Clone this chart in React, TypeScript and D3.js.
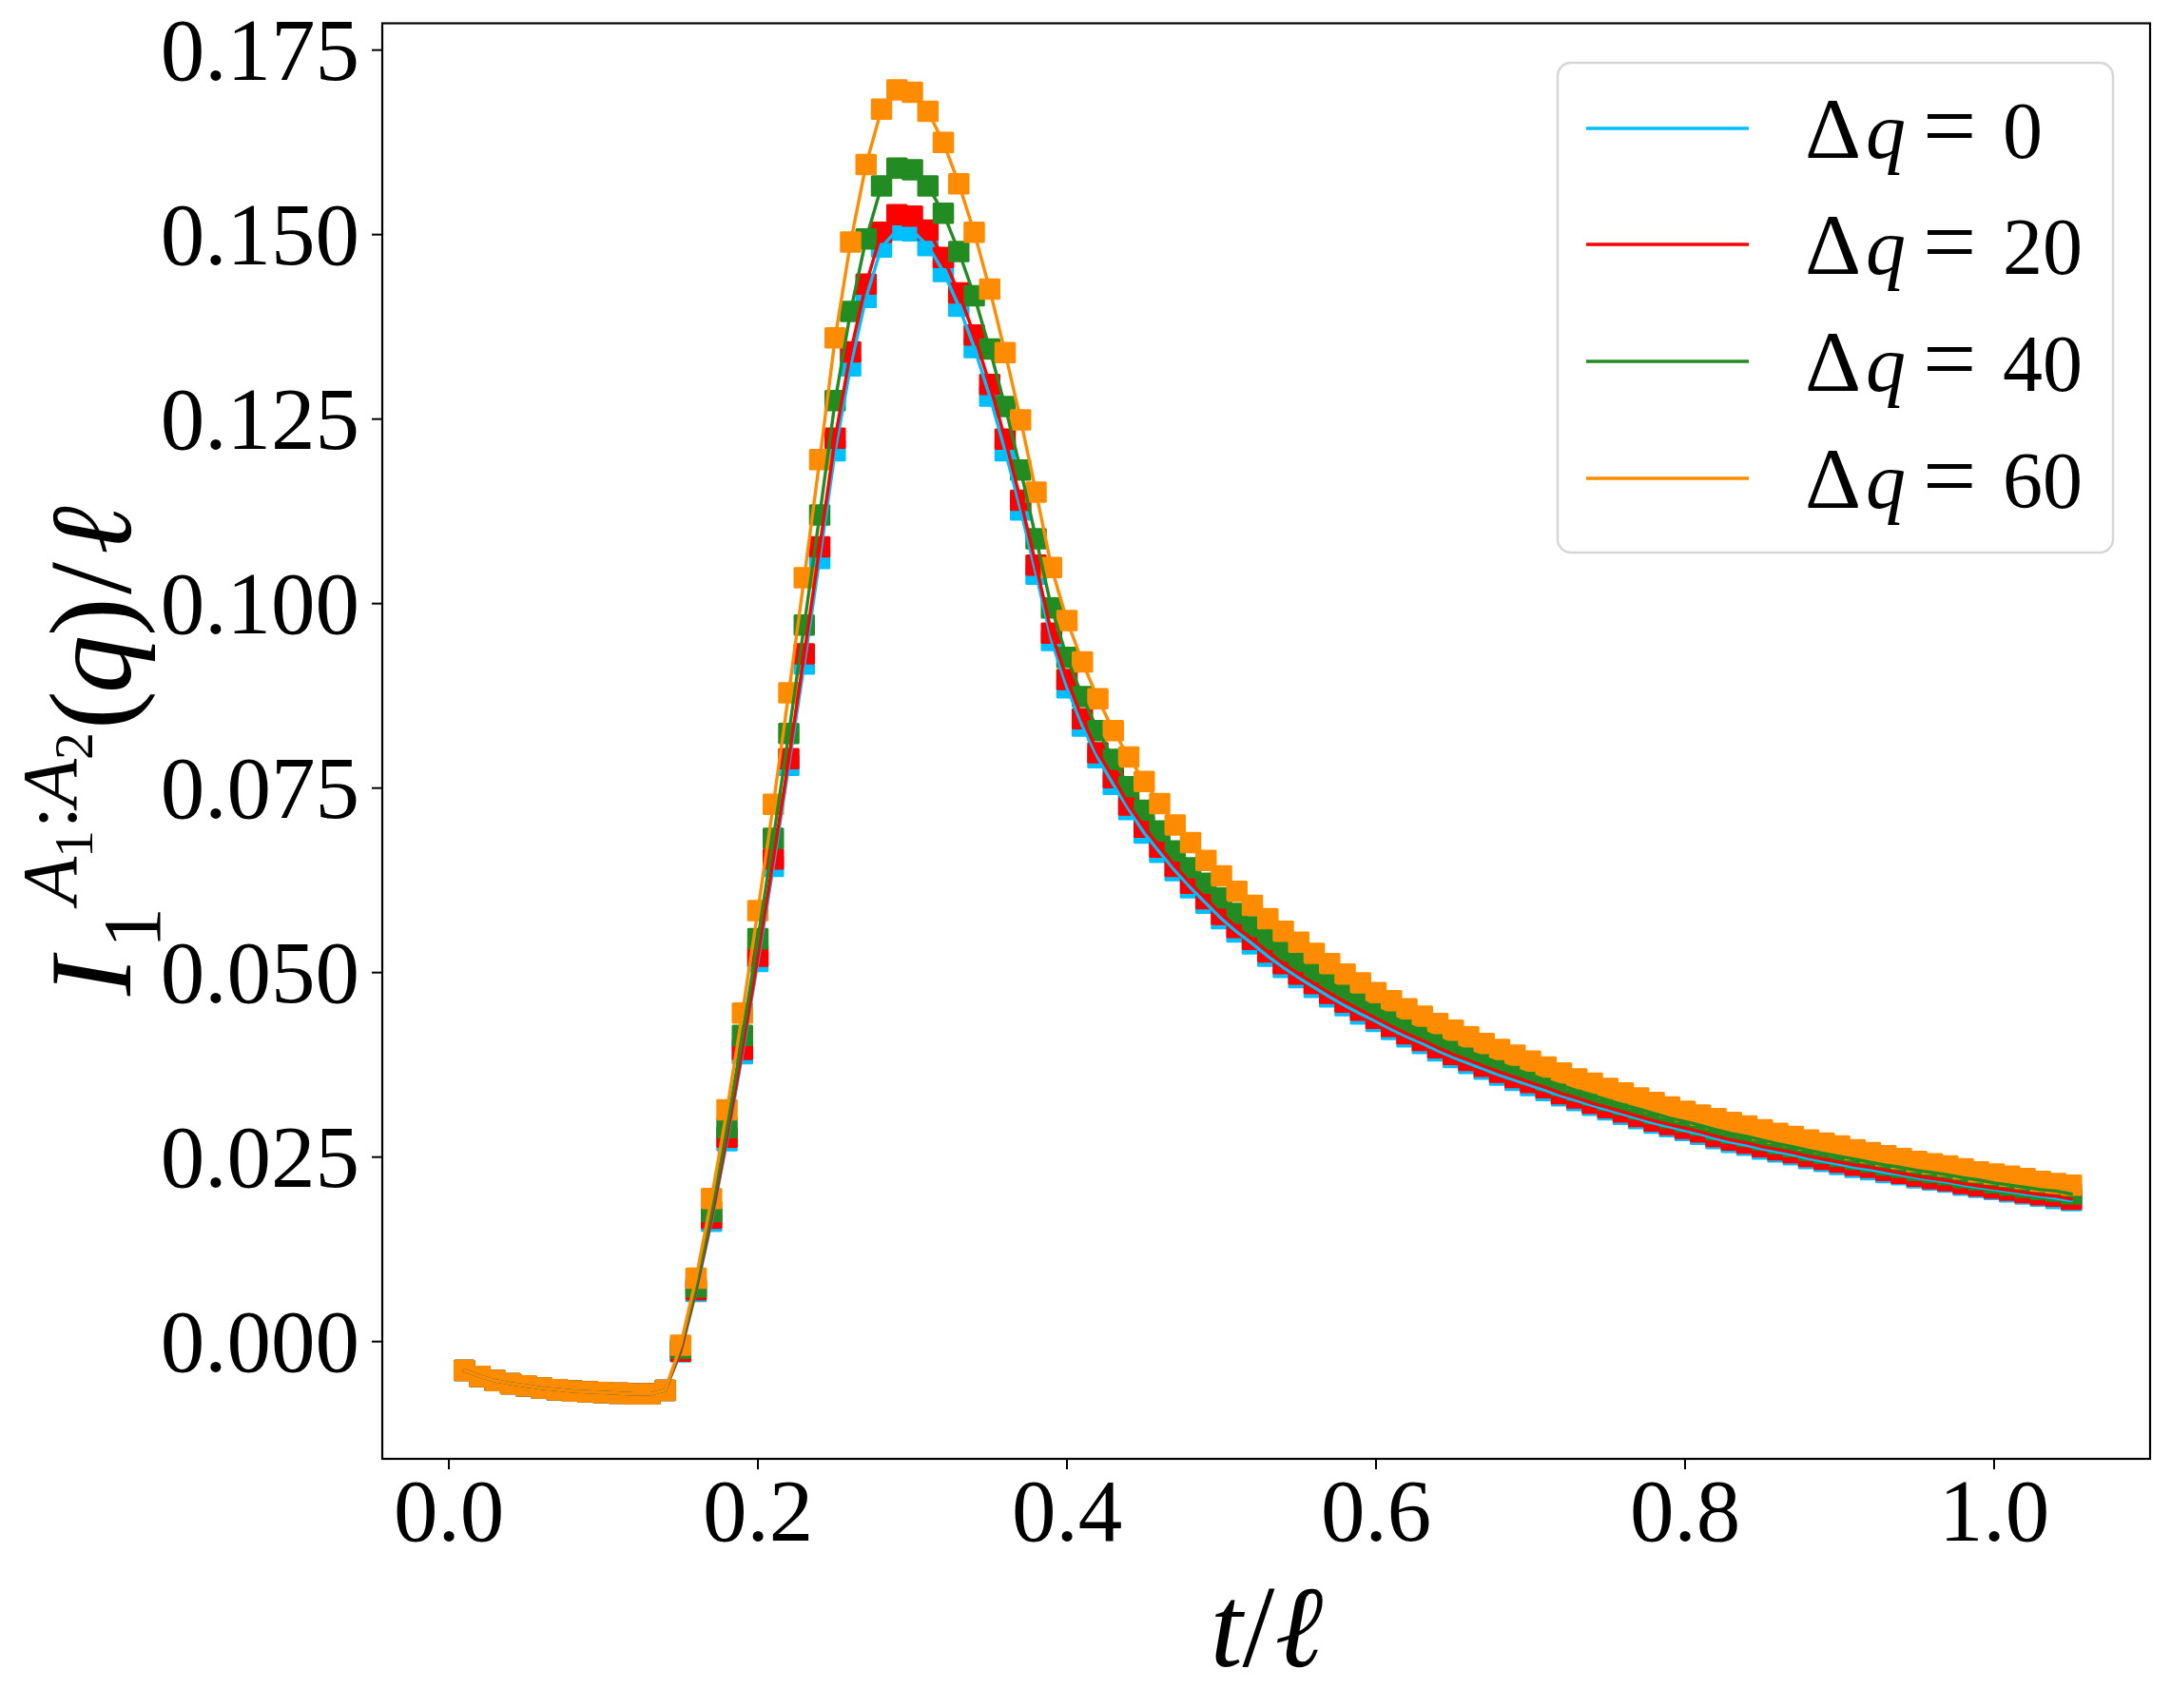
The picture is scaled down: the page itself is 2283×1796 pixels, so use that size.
import React from 'react';
import * as d3 from 'd3';

// t / ell sample points
const tValues = [
  0.01, 0.02, 0.03, 0.04, 0.05, 0.06, 0.07, 0.08, 0.09, 0.10,
  0.11, 0.12, 0.13, 0.14, 0.15, 0.16, 0.17, 0.18, 0.19, 0.20,
  0.21, 0.22, 0.23, 0.24, 0.25, 0.26, 0.27, 0.28, 0.29, 0.30,
  0.31, 0.32, 0.33, 0.34, 0.35, 0.36, 0.37, 0.38, 0.39, 0.40,
  0.41, 0.42, 0.43, 0.44, 0.45, 0.46, 0.47, 0.48, 0.49, 0.50,
  0.51, 0.52, 0.53, 0.54, 0.55, 0.56, 0.57, 0.58, 0.59, 0.60,
  0.61, 0.62, 0.63, 0.64, 0.65, 0.66, 0.67, 0.68, 0.69, 0.70,
  0.71, 0.72, 0.73, 0.74, 0.75, 0.76, 0.77, 0.78, 0.79, 0.80,
  0.81, 0.82, 0.83, 0.84, 0.85, 0.86, 0.87, 0.88, 0.89, 0.90,
  0.91, 0.92, 0.93, 0.94, 0.95, 0.96, 0.97, 0.98, 0.99, 1.00,
  1.01, 1.02, 1.03, 1.04, 1.05,
];

// Δq = 0
const dq0 = [
  -0.0039, -0.0047, -0.0053, -0.0057, -0.0060, -0.0063, -0.0065, -0.0067, -0.0068, -0.0069,
  -0.0070, -0.0071, -0.0071, -0.0066,
  -0.0014, 0.0068, 0.0163, 0.0272, 0.0390, 0.0515, 0.0644, 0.0781, 0.0918, 0.1061,
  0.1207, 0.1322, 0.1415, 0.1483, 0.1506, 0.1505, 0.1485, 0.1450, 0.1403, 0.1347,
  0.1281, 0.1207, 0.1127, 0.1040, 0.0950, 0.0886, 0.0834, 0.0791, 0.0755, 0.0721,
  0.0689, 0.0663, 0.0638, 0.0615, 0.0594, 0.0573,
  0.0555, 0.0539, 0.0522, 0.0507, 0.0493, 0.0480, 0.0467, 0.0455, 0.0444, 0.0434,
  0.0423, 0.0413, 0.0404, 0.0394, 0.0385, 0.0377, 0.0369, 0.0361, 0.0354, 0.0347,
  0.0340, 0.0333, 0.03265, 0.0320, 0.0314, 0.0308, 0.0302, 0.0296, 0.0291, 0.0286,
  0.0281, 0.0275, 0.0270, 0.0266, 0.0261, 0.0257, 0.0253, 0.0248, 0.0244, 0.0240,
  0.0236, 0.0233, 0.0229, 0.0226, 0.0222, 0.0219, 0.0216, 0.0212, 0.0209, 0.0206,
  0.0203, 0.0200, 0.0197, 0.0194, 0.0191,
];

// Δq = 20
const dq20 = [
  -0.0039, -0.0047, -0.0053, -0.0057, -0.0060, -0.0063, -0.0065, -0.0067, -0.0068, -0.0069,
  -0.0070, -0.0071, -0.0071, -0.0066,
  -0.0013, 0.0070, 0.0167, 0.0277, 0.0396, 0.0522, 0.0654, 0.0790, 0.0932, 0.1077,
  0.1224, 0.1341, 0.1433, 0.1503, 0.1527, 0.1525, 0.1506, 0.1469, 0.1421, 0.1364,
  0.1297, 0.1223, 0.1140, 0.1052, 0.0960, 0.0897, 0.0844, 0.0798, 0.0764, 0.0727,
  0.0697, 0.0670, 0.0644, 0.0621, 0.0600, 0.0579,
  0.0561, 0.0545, 0.0528, 0.0512, 0.0498, 0.0485, 0.0472, 0.0460, 0.0449, 0.0438,
  0.0427, 0.0417, 0.0408, 0.0398, 0.0389, 0.0381, 0.0373, 0.0365, 0.0358, 0.0351,
  0.0344, 0.0336, 0.0330, 0.0323, 0.0317, 0.0311, 0.0305, 0.0299, 0.0294, 0.0289,
  0.0284, 0.0278, 0.0273, 0.0269, 0.0264, 0.0260, 0.0256, 0.0251, 0.0247, 0.0243,
  0.0239, 0.0236, 0.0232, 0.0228, 0.0224, 0.0221, 0.0218, 0.0214, 0.0211, 0.0208,
  0.0205, 0.0202, 0.0199, 0.0197, 0.0193,
];

// Δq = 40
const dq40 = [
  -0.0039, -0.0047, -0.0053, -0.0057, -0.0060, -0.0063, -0.0065, -0.0067, -0.0068, -0.0069,
  -0.0070, -0.0071, -0.0071, -0.0066,
  -0.0009, 0.0074, 0.0176, 0.0290, 0.0415, 0.0546, 0.0682, 0.0824, 0.0971, 0.1120,
  0.1275, 0.1396, 0.1494, 0.1566, 0.1590, 0.1588, 0.1566, 0.1529, 0.1477, 0.1417,
  0.1345, 0.1267, 0.1181, 0.1088, 0.0994, 0.0927, 0.0874, 0.0828, 0.0789, 0.0752,
  0.0720, 0.0692, 0.0665, 0.0642, 0.0621, 0.0601,
  0.0580, 0.0562, 0.0545, 0.0529, 0.0515, 0.0501, 0.0487, 0.0474, 0.0463, 0.0452,
  0.0441, 0.0430, 0.0421, 0.0411, 0.0402, 0.0393, 0.0385, 0.0377, 0.0369, 0.0362,
  0.0354, 0.0347, 0.0340, 0.0334, 0.0327, 0.0321, 0.0315, 0.0309, 0.0303, 0.0298,
  0.0293, 0.0287, 0.0282, 0.0278, 0.0273, 0.0268, 0.0264, 0.0259, 0.0255, 0.0251,
  0.0247, 0.0243, 0.0239, 0.0236, 0.0232, 0.0229, 0.0226, 0.0222, 0.0219, 0.0215,
  0.0212, 0.0209, 0.0206, 0.0204, 0.0200,
];

// Δq = 60
const dq60 = [
  -0.0039, -0.0047, -0.0053, -0.0057, -0.0060, -0.0063, -0.0065, -0.0067, -0.0068, -0.0069,
  -0.0070, -0.0071, -0.0071, -0.0066,
  -0.0005, 0.0086, 0.0194, 0.0314, 0.0445, 0.0584, 0.0728, 0.0879, 0.1035, 0.1195,
  0.1360, 0.1490, 0.1595, 0.1670, 0.1696, 0.1693, 0.1667, 0.1625, 0.1569, 0.1503,
  0.1426, 0.1340, 0.1249, 0.1151, 0.1049, 0.0977, 0.0921, 0.0871, 0.0828, 0.0792,
  0.0759, 0.0729, 0.0700, 0.0676, 0.0652, 0.0631,
  0.0610, 0.0591, 0.0573, 0.0556, 0.0541, 0.0526, 0.0512, 0.0498, 0.0486, 0.0473,
  0.0462, 0.0451, 0.0441, 0.0431, 0.0422, 0.0413, 0.0404, 0.0396, 0.0388, 0.0380,
  0.0372, 0.0364, 0.0356, 0.0350, 0.0343, 0.0337, 0.0330, 0.0324, 0.0318, 0.0312,
  0.0307, 0.0302, 0.0297, 0.0292, 0.0287, 0.0282, 0.0278, 0.0273, 0.0269, 0.0265,
  0.0260, 0.0256, 0.0252, 0.0248, 0.0244, 0.0241, 0.0238, 0.0234, 0.0230, 0.0227,
  0.0224, 0.0221, 0.0217, 0.0214, 0.0212,
];

const seriesLabels = ['0', '20', '40', '60'];
const seriesColors = ['#00BFFF', '#FF0000', '#228B22', '#FF8C00'];
const seriesValues = [dq0, dq20, dq40, dq60];

const xTicks = [0.0, 0.2, 0.4, 0.6, 0.8, 1.0];
const xTickLabels = ['0.0', '0.2', '0.4', '0.6', '0.8', '1.0'];
const yTicks = [0.0, 0.025, 0.05, 0.075, 0.1, 0.125, 0.15, 0.175];
const yTickLabels = ['0.000', '0.025', '0.050', '0.075', '0.100', '0.125', '0.150', '0.175'];

const W = 2283;
const H = 1796;
const AX = { left: 402, right: 2261, top: 24.5, bottom: 1534 };
const FONT = "'Liberation Serif', 'DejaVu Serif', serif";

export default function App() {
  const x = d3.scaleLinear().domain([-0.04308, 1.10092]).range([AX.left, AX.right]);
  const y = d3.scaleLinear().domain([-0.01589, 0.17863]).range([AX.bottom, AX.top]);

  const ms = 22.5;
  const lineGen = d3
    .line<number>()
    .x((_, i) => x(tValues[i]))
    .y((d) => y(d));

  const tickFont = 93;
  const legendFont = 84;
  const labelFont = 122;

  const legendLineY = [135, 257, 380, 503];

  return (
    <svg
      width={W}
      height={H}
      viewBox={`0 0 ${W} ${H}`}
      style={{ position: 'absolute', left: 0, top: 0, background: '#fff' }}
      fontFamily={FONT}
    >
      <rect x={0} y={0} width={W} height={H} fill="#fff" />

      {/* markers */}
      <g>
        {seriesValues.map((vals, si) => (
          <g key={'m' + si} fill={seriesColors[si]}>
            {vals.map((v, i) => (
              <rect
                key={i}
                x={x(tValues[i]) - ms / 2}
                y={y(v) - ms / 2}
                width={ms}
                height={ms}
                rx={1.5}
              />
            ))}
          </g>
        ))}
      </g>

      {/* lines */}
      <g fill="none" strokeWidth={3.4} strokeLinejoin="round" strokeLinecap="round">
        {seriesValues.map((vals, si) => (
          <path key={'l' + si} d={lineGen(vals) || ''} stroke={seriesColors[si]} />
        ))}
      </g>

      {/* axes frame */}
      <rect
        x={AX.left}
        y={AX.top}
        width={AX.right - AX.left}
        height={AX.bottom - AX.top}
        fill="none"
        stroke="#000"
        strokeWidth={2.2}
      />

      {/* x ticks */}
      <g>
        {xTicks.map((t, i) => (
          <g key={'xt' + i}>
            <line x1={x(t)} x2={x(t)} y1={AX.bottom} y2={AX.bottom + 11} stroke="#000" strokeWidth={2} />
            <text x={x(t)} y={1620} textAnchor="middle" fontSize={tickFont} fill="#000">
              {xTickLabels[i]}
            </text>
          </g>
        ))}
      </g>

      {/* y ticks */}
      <g>
        {yTicks.map((t, i) => (
          <g key={'yt' + i}>
            <line x1={AX.left - 11} x2={AX.left} y1={y(t)} y2={y(t)} stroke="#000" strokeWidth={2} />
            <text x={378} y={y(t) + 31} textAnchor="end" fontSize={tickFont} fill="#000">
              {yTickLabels[i]}
            </text>
          </g>
        ))}
      </g>

      {/* x label */}
      <text x={1332} y={1752} textAnchor="middle" fontSize={labelFont} fill="#000">
        <tspan fontStyle="italic">t</tspan>
        <tspan>/</tspan>
        <tspan fontStyle="italic">ℓ</tspan>
      </text>

      {/* y label */}
      <g transform="translate(137,1047) rotate(-90)">
        <text fill="#000">
          <tspan x={0} y={0} fontSize={labelFont} fontStyle="italic">I</tspan>
          <tspan x={50} y={31} fontSize={86}>1</tspan>
          <tspan x={96} y={-57} fontSize={82} fontStyle="italic">A</tspan>
          <tspan x={145} y={-40} fontSize={58}>1</tspan>
          <tspan x={176} y={-57} fontSize={82}>:</tspan>
          <tspan x={199} y={-57} fontSize={82} fontStyle="italic">A</tspan>
          <tspan x={248} y={-40} fontSize={58}>2</tspan>
          <tspan x={280} y={0} fontSize={labelFont}>(</tspan>
          <tspan x={318} y={0} fontSize={labelFont} fontStyle="italic">q</tspan>
          <tspan x={378} y={0} fontSize={labelFont}>)</tspan>
          <tspan x={422} y={0} fontSize={labelFont}>/</tspan>
          <tspan x={464} y={0} fontSize={labelFont} fontStyle="italic">ℓ</tspan>
        </text>
      </g>

      {/* legend */}
      <g>
        <rect
          x={1638}
          y={66}
          width={2222 - 1638}
          height={581 - 66}
          rx={14}
          ry={14}
          fill="#fff"
          fillOpacity={0.8}
          stroke="#d6d6d6"
          strokeWidth={2.5}
        />
        {seriesLabels.map((lab, i) => (
          <g key={'lg' + i}>
            <line
              x1={1668}
              x2={1839}
              y1={legendLineY[i]}
              y2={legendLineY[i]}
              stroke={seriesColors[i]}
              strokeWidth={3.6}
            />
            <text y={legendLineY[i] + 31} fill="#000">
              <tspan x={1898} fontSize={92}>Δ</tspan>
              <tspan x={1962} fontSize={legendFont} fontStyle="italic">q</tspan>
              <tspan x={2022} fontSize={100}>=</tspan>
              <tspan x={2106} fontSize={legendFont}>{lab}</tspan>
            </text>
          </g>
        ))}
      </g>
    </svg>
  );
}
